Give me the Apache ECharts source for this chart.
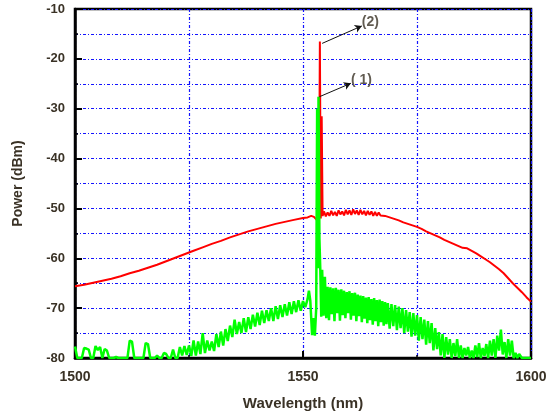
<!DOCTYPE html>
<html><head><meta charset="utf-8">
<script src="https://cdn.jsdelivr.net/npm/echarts@6/dist/echarts.min.js"></script>
<style>html,body{margin:0;padding:0;background:#fff}#c{width:552px;height:419px}</style>
</head><body><div id="c"></div>
<script>
// Curve (2): red
const redNm = [1500,1502,1504,1506,1508,1510,1512,1514,1516,1518,1520,1522,1524,1526,1528,1530,1532,1534,1536,1538,1540,1542,1544,1546,1548,1550,1551,1551.8,1552.4,1553,1553.5,1553.7,1553.9,1554.1,1554.3,
1554.6,1555,1555.4,1555.8,1556.2,1556.6,1557,1557.4,1557.8,1558.2,1558.6,1559,1559.4,1559.8,1560.2,1560.6,1561,1561.4,1561.8,1562.2,1562.6,1563,1563.4,1563.8,1564.2,1564.6,1565,1565.4,1565.8,1566.2,1566.6,1567,
1568,1569,1570,1571,1572,1573,1574,1575,1576,1577,1578,1579,1580,1581,1582,1583,1584,1585,1586,1587,1588,1589,1590,1591,1592,1593,1594,1595,1596,1597,1598,1599,1600];
const redDb = [-65.6,-65.3,-64.9,-64.5,-64.1,-63.6,-63.0,-62.5,-61.9,-61.3,-60.6,-59.9,-59.2,-58.5,-57.8,-57.1,-56.5,-55.8,-55.2,-54.6,-54.1,-53.6,-53.1,-52.7,-52.3,-51.9,-51.8,-51.5,-51.7,-52.3,-52.2,-16.5,-52.0,-31.5,-51.5,
-50.6,-51.6,-50.8,-51.5,-50.5,-51.4,-50.7,-51.5,-50.4,-51.2,-50.6,-51.4,-50.3,-51.2,-50.4,-51.3,-50.2,-51.1,-50.4,-51.3,-50.3,-51.2,-50.5,-51.4,-50.5,-51.3,-50.6,-51.5,-50.7,-51.5,-50.8,-51.4,
-51.5,-51.8,-52.1,-52.4,-52.8,-53.1,-53.4,-53.7,-54.1,-54.6,-55.0,-55.4,-55.8,-56.3,-56.7,-57.1,-57.5,-57.9,-58.0,-58.5,-59.0,-59.6,-60.2,-60.8,-61.5,-62.2,-63.0,-64.0,-65.0,-65.9,-66.8,-67.8,-68.7];

// Curve (1): green
const greenNm = [1500,1500.5,1501,1501.5,1502,1502.5,1503,1503.5,1504,1504.5,1505,1505.5,1506,1506.5,1507,1507.5,1508,1508.5,1509,1509.5,1510,1510.5,1511,1511.5,1512,1512.5,1513,1513.5,1514,1514.5,1515,1515.5,1516,1516.5,1517,1517.5,1518,1518.5,1519,1519.5,1520,1520.5,1521,1521.5,1522,1522.5,1523,1523.5,1524,1524.5,1525,1525.5,1526,1526.5,1527,1527.5,1528,1528.5,1529,1529.5,1530,1530.5,1531,1531.5,1532,1532.5,1533,1533.5,1534,1534.5,1535,1535.5,1536,1536.5,1537,1537.5,1538,1538.5,1539,1539.5,1540,1540.5,1541,1541.5,1542,1542.5,1543,1543.5,1544,1544.5,1545,1545.5,1546,1546.5,1547,1547.5,1548,1548.5,1549,1549.5,1550,1550.5,1551,1551.3,1551.6,1552,1552.3,1552.6,1552.9,1553.1,1553.3,1553.4,1553.6,1553.8,1554,1554.2,1554.5,1554.8,1555.1,1555.4,1555.7,1556,1556.3,1556.6,1556.9,1557.2,1557.5,1557.8,1558.1,1558.4,1558.7,1559,1559.3,1559.6,1559.9,1560.2,1560.5,1560.8,1561.1,1561.4,1561.7,1562,1562.3,1562.6,1562.9,1563.2,1563.5,1563.8,1564.1,1564.4,1564.7,1565,1565.3,1565.6,1565.9,1566.2,1566.5,1566.8,1567.1,1567.4,1567.7,1568,1568.3,1568.6,1569,1569.4,1569.8,1570.2,1570.6,1571,1571.4,1571.8,1572.2,1572.6,1573,1573.4,1573.8,1574.2,1574.6,1575,1575.4,1575.8,1576.2,1576.6,1577,1577.4,1577.8,1578.2,1578.6,1579,1579.4,1579.8,1580.2,1580.6,1581,1581.4,1581.8,1582.2,1582.6,1583,1583.4,1583.8,1584.2,1584.6,1585,1585.4,1585.8,1586.2,1586.6,1587,1587.4,1587.8,1588.2,1588.6,1589,1589.4,1589.8,1590.2,1590.6,1591,1591.4,1591.8,1592.2,1592.6,1593,1593.4,1593.8,1594.2,1594.6,1595,1595.4,1595.8,1596.2,1596.6,1597,1597.4,1598,1600];
const greenDb = [-77.7,-80,-80,-80,-78,-78.1,-78.3,-80,-80,-77.6,-78.4,-77.8,-80,-78.2,-78.5,-80,-80,-80,-79.8,-80,-80,-80,-80,-80,-76.5,-76.7,-80,-80,-80,-80,-80,-77,-77.2,-80,-80,-80,-79.5,-80,-80,-79,-79.2,-80,-80,-78.3,-80,-80,-77.8,-79.5,-77.6,-79.4,-77.5,-79.6,-76.5,-79.5,-76.7,-79.2,-75,-79,-76.5,-78.5,-76.7,-78.6,-75.2,-77.8,-74.7,-77.5,-74.2,-76.6,-73.5,-75.8,-72.3,-75.2,-72.8,-75,-72,-74.8,-71.8,-74.2,-71.3,-73.7,-70.9,-73.4,-70.5,-73,-70.4,-72.6,-70,-72.6,-69.6,-72.2,-69.4,-71.8,-69.2,-71.5,-68.8,-71.2,-68.6,-70.8,-68.4,-70.5,-68.6,-69.8,-68.2,-66.5,-68.5,-75.4,-72,-75.5,-70,-30,-62,-27.6,-56,-62.5,-71.7,-62.3,-71.5,-63.7,-72,-65.7,-72.4,-65.8,-71.2,-66,-72.6,-65.9,-71,-66.3,-72.5,-66.2,-71.4,-66.5,-72,-66.8,-71,-66.6,-72.3,-67,-71.5,-66.9,-72.6,-67.3,-71.6,-67.5,-72.8,-67.6,-72.1,-67.9,-73,-67.8,-72.4,-68.2,-73.3,-68,-72.6,-68.4,-73.6,-68.3,-72.8,-68.6,-73.5,-68.8,-73.2,-69,-74.1,-69.2,-73.6,-69.4,-74.4,-69.7,-74,-70,-75,-70.4,-74.7,-70.8,-75.7,-71,-75.5,-71.4,-76.5,-71.8,-76.2,-72.3,-77.3,-72.6,-77,-73,-78.5,-74,-78.2,-74.8,-79.5,-75.2,-80,-75.8,-79.3,-76.2,-80,-77,-79.6,-76.2,-80,-77.5,-80,-78,-79.5,-77.8,-80,-78.5,-80,-77.5,-79.8,-77,-80,-78,-79.6,-77.2,-80,-76.5,-79.5,-76.2,-80,-75.5,-78.5,-74.3,-79.3,-76.8,-80,-76.2,-79.5,-76.5,-80,-79,-80,-79.2,-80,-80];

// Annotations: label texts and their anchor points (nm, dBm)
const annotText = ['(2)', '( 1)'];
const annotLabelAt = [[1562.9, -12.6], [1560.5, -24.3]];
const annotArrowFrom = [[1554.2, -16.9], [1553.6, -27.6]];
const annotArrowTo = [[1562.9, -13.4], [1560.5, -24.9]];

const xTicks = [1500, 1550, 1600];
const yMin = -80, yMax = -10;

const pair = (xs, ys) => xs.map((x, i) => [x, ys[i]]);
const gridLine = { show: true, lineStyle: { color: '#1414ff', width: 1.2, type: [3, 2, 1, 2] } };
const txt = '#3a3226';

const chart = echarts.init(document.getElementById('c'), null, { renderer: 'canvas' });
chart.setOption({
  animation: false,
  backgroundColor: '#fff',
  grid: { left: 75, right: 21, top: 9, bottom: 61, show: true, borderColor: '#000', borderWidth: 2.5, backgroundColor: 'transparent' },
  xAxis: {
    type: 'value', min: xTicks[0], max: xTicks[xTicks.length - 1], interval: 50,
    name: 'Wavelength (nm)', nameLocation: 'middle', nameGap: 38,
    nameTextStyle: { fontFamily: 'Liberation Sans', fontWeight: 'bold', fontSize: 15, color: txt },
    axisLine: { show: true, lineStyle: { color: '#000', width: 2.5 } },
    axisTick: { show: true, inside: true, length: 7, lineStyle: { color: '#000', width: 2 } },
    minorTick: { show: true, splitNumber: 2, length: 3, lineStyle: { color: '#000', width: 1.5 } },
    axisLabel: { margin: 12, fontFamily: 'Liberation Sans', fontWeight: 'bold', fontSize: 14, color: txt,
      formatter: v => String(v) },
    splitLine: gridLine,
    minorSplitLine: gridLine
  },
  yAxis: {
    type: 'value', min: yMin, max: yMax, interval: 10,
    name: 'Power (dBm)', nameLocation: 'middle', nameGap: 50,
    nameTextStyle: { fontFamily: 'Liberation Sans', fontWeight: 'bold', fontSize: 14, color: txt },
    axisLine: { show: true, lineStyle: { color: '#000', width: 2.5 } },
    axisTick: { show: true, inside: true, length: 7, lineStyle: { color: '#000', width: 2 } },
    minorTick: { show: true, splitNumber: 2, length: 3, lineStyle: { color: '#000', width: 1.5 } },
    axisLabel: { margin: 10, fontFamily: 'Liberation Sans', fontWeight: 'bold', fontSize: 13, color: txt },
    splitLine: gridLine,
    minorSplitLine: gridLine
  },
  series: [
    { name: '(2)', type: 'line', data: pair(redNm, redDb), showSymbol: false, lineStyle: { color: '#ff0000', width: 2 }, itemStyle: { color: '#ff0000' }, z: 3 },
    { name: '(1)', type: 'line', data: pair(greenNm, greenDb), showSymbol: false, lineStyle: { color: '#00ff00', width: 2.5 }, itemStyle: { color: '#00ff00' }, z: 4 },
    {
      name: 'annot', type: 'scatter', symbolSize: 0, z: 6, silent: true,
      data: annotLabelAt.map((p, i) => ({ value: p, name: annotText[i] })),
      label: { show: true, position: 'right', distance: 0, formatter: p => p.name,
        fontFamily: 'Liberation Sans', fontWeight: 'bold', fontSize: 14, color: txt },
      markLine: {
        silent: true, symbol: ['none', 'arrow'], symbolSize: [6, 7],
        label: { show: false },
        lineStyle: { color: '#111', width: 1, type: 'solid' },
        data: annotArrowFrom.map((p, i) => [{ coord: p }, { coord: annotArrowTo[i] }])
      }
    }
  ]
});
</script>
</body></html>
